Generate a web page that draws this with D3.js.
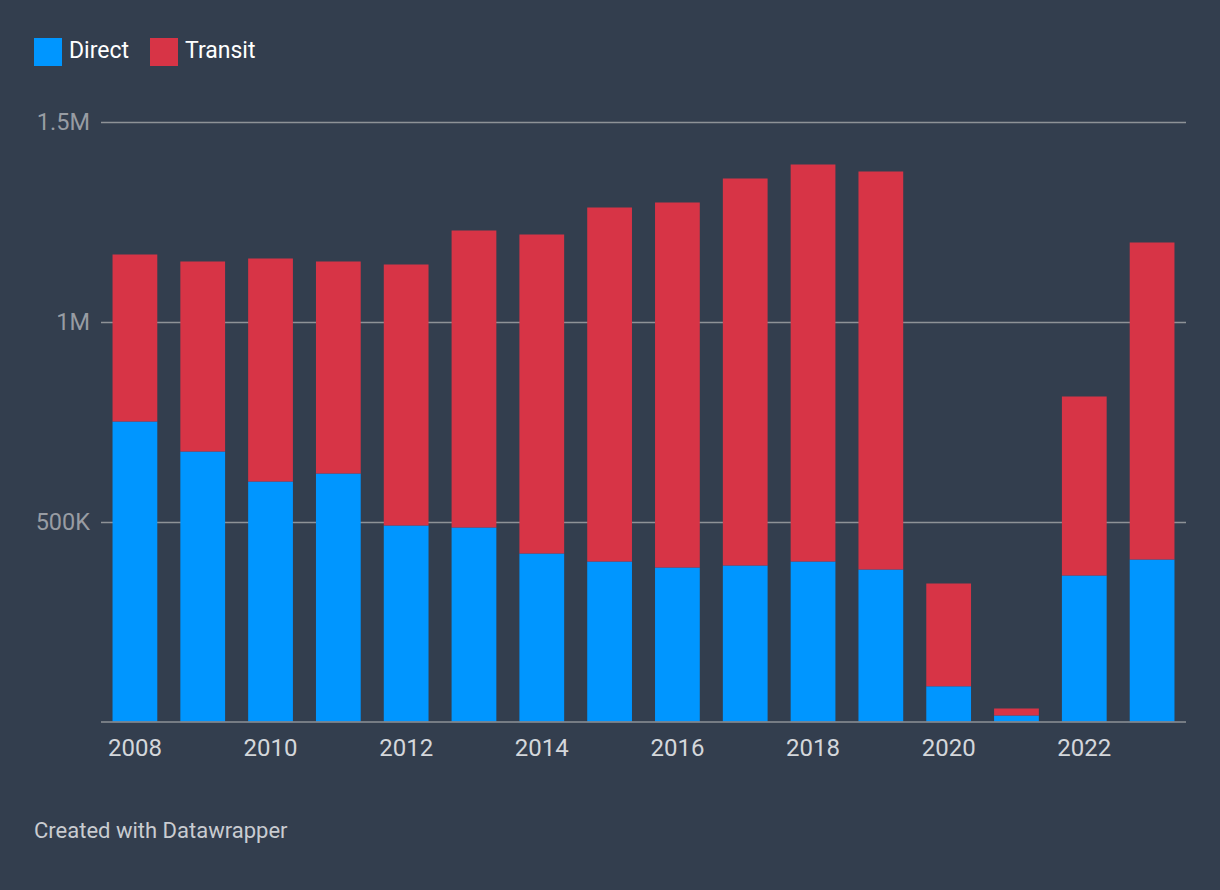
<!DOCTYPE html>
<html>
<head>
<meta charset="utf-8">
<script src="https://cdn.jsdelivr.net/npm/d3@7"></script>
<style>
  html, body { margin: 0; padding: 0; background: #333e4e; }
  svg { display: block; font-family: Roboto, "Noto Sans", sans-serif; }
</style>
</head>
<body>
<svg id="chart" width="1220" height="890"></svg>
<script>
const years = ["2008","2009","2010","2011","2012","2013","2014","2015","2016","2017","2018","2019","2020","2021","2022","2023"];
const direct = [750000, 675000, 600000, 620000, 490000, 485000, 420000, 400000, 385000, 390000, 400000, 380000, 88000, 15000, 365000, 405000];
const total = [1167500, 1150000, 1157500, 1150000, 1142500, 1227500, 1217500, 1285000, 1297500, 1357500, 1392500, 1375000, 345000, 32500, 812500, 1197500];
const transit = total.map((t, i) => t - direct[i]);
const seriesNames = ["Direct", "Transit"];
const seriesColors = ["#0096ff", "#d73446"];
const yTicks = [0, 500000, 1000000, 1500000];
const yTickLabels = ["", "500K", "1M", "1.5M"];
const xTickLabels = ["2008","2010","2012","2014","2016","2018","2020","2022"];

const svg = d3.select("#chart");
svg.append("rect").attr("width", 1220).attr("height", 890).attr("fill", "#333e4e");

const mLeft = 101, mRight = 1186, mTop = 121.5, mBottom = 721.5;
const x = d3.scaleBand().domain(years).range([mLeft, mRight]).paddingInner(0.34).paddingOuter(0.17);
const y = d3.scaleLinear().domain([0, 1500000]).range([mBottom, mTop]);

// gridlines
const grid = svg.append("g");
yTicks.forEach((t, i) => {
  if (t === 0) return;
  grid.append("line").attr("x1", mLeft).attr("x2", mRight)
    .attr("y1", Math.round(y(t)) + 0.5).attr("y2", Math.round(y(t)) + 0.5)
    .attr("stroke", "#8e9297").attr("stroke-width", 1.5);
  grid.append("text").attr("x", 90).attr("y", y(t) + 8.5)
    .attr("text-anchor", "end").attr("font-size", 23.5).attr("fill", "#989ca3")
    .text(yTickLabels[i]);
});

// stacked bars
const data = years.map((yr, i) => ({ year: yr, Direct: direct[i], Transit: transit[i] }));
const stack = d3.stack().keys(seriesNames)(data);
svg.append("g").selectAll("g").data(stack).join("g")
  .attr("fill", (d, i) => seriesColors[i])
  .selectAll("rect").data(d => d).join("rect")
  .attr("x", d => x(d.data.year))
  .attr("width", x.bandwidth())
  .attr("y", d => y(d[1]))
  .attr("height", d => y(d[0]) - y(d[1]));

// baseline
svg.append("line").attr("x1", mLeft).attr("x2", mRight)
  .attr("y1", mBottom + 0.5).attr("y2", mBottom + 0.5)
  .attr("stroke", "#8e9297").attr("stroke-width", 1.5);

// x axis labels
const xAxis = d3.axisBottom(x).tickValues(xTickLabels).tickSize(0).tickPadding(0);
const gx = svg.append("g").attr("transform", `translate(0,${mBottom})`).call(xAxis);
gx.select(".domain").remove();
gx.selectAll("text").attr("font-size", 24).attr("fill", "#d4d7db")
  .attr("font-family", "Roboto, sans-serif").attr("y", 756 - mBottom).attr("dy", null);

// legend
const legend = svg.append("g");
const legX = [34, 150];
seriesNames.forEach((s, i) => {
  legend.append("rect").attr("x", legX[i]).attr("y", 38).attr("width", 28).attr("height", 28).attr("fill", seriesColors[i]);
  legend.append("text").attr("x", legX[i] + 35).attr("y", 58)
    .attr("font-size", 23).attr("fill", "#ffffff").text(s);
});

// footer
svg.append("text").attr("x", 34).attr("y", 838).attr("font-size", 22).attr("fill", "#c9ccd1")
  .text("Created with Datawrapper");
</script>
</body>
</html>
